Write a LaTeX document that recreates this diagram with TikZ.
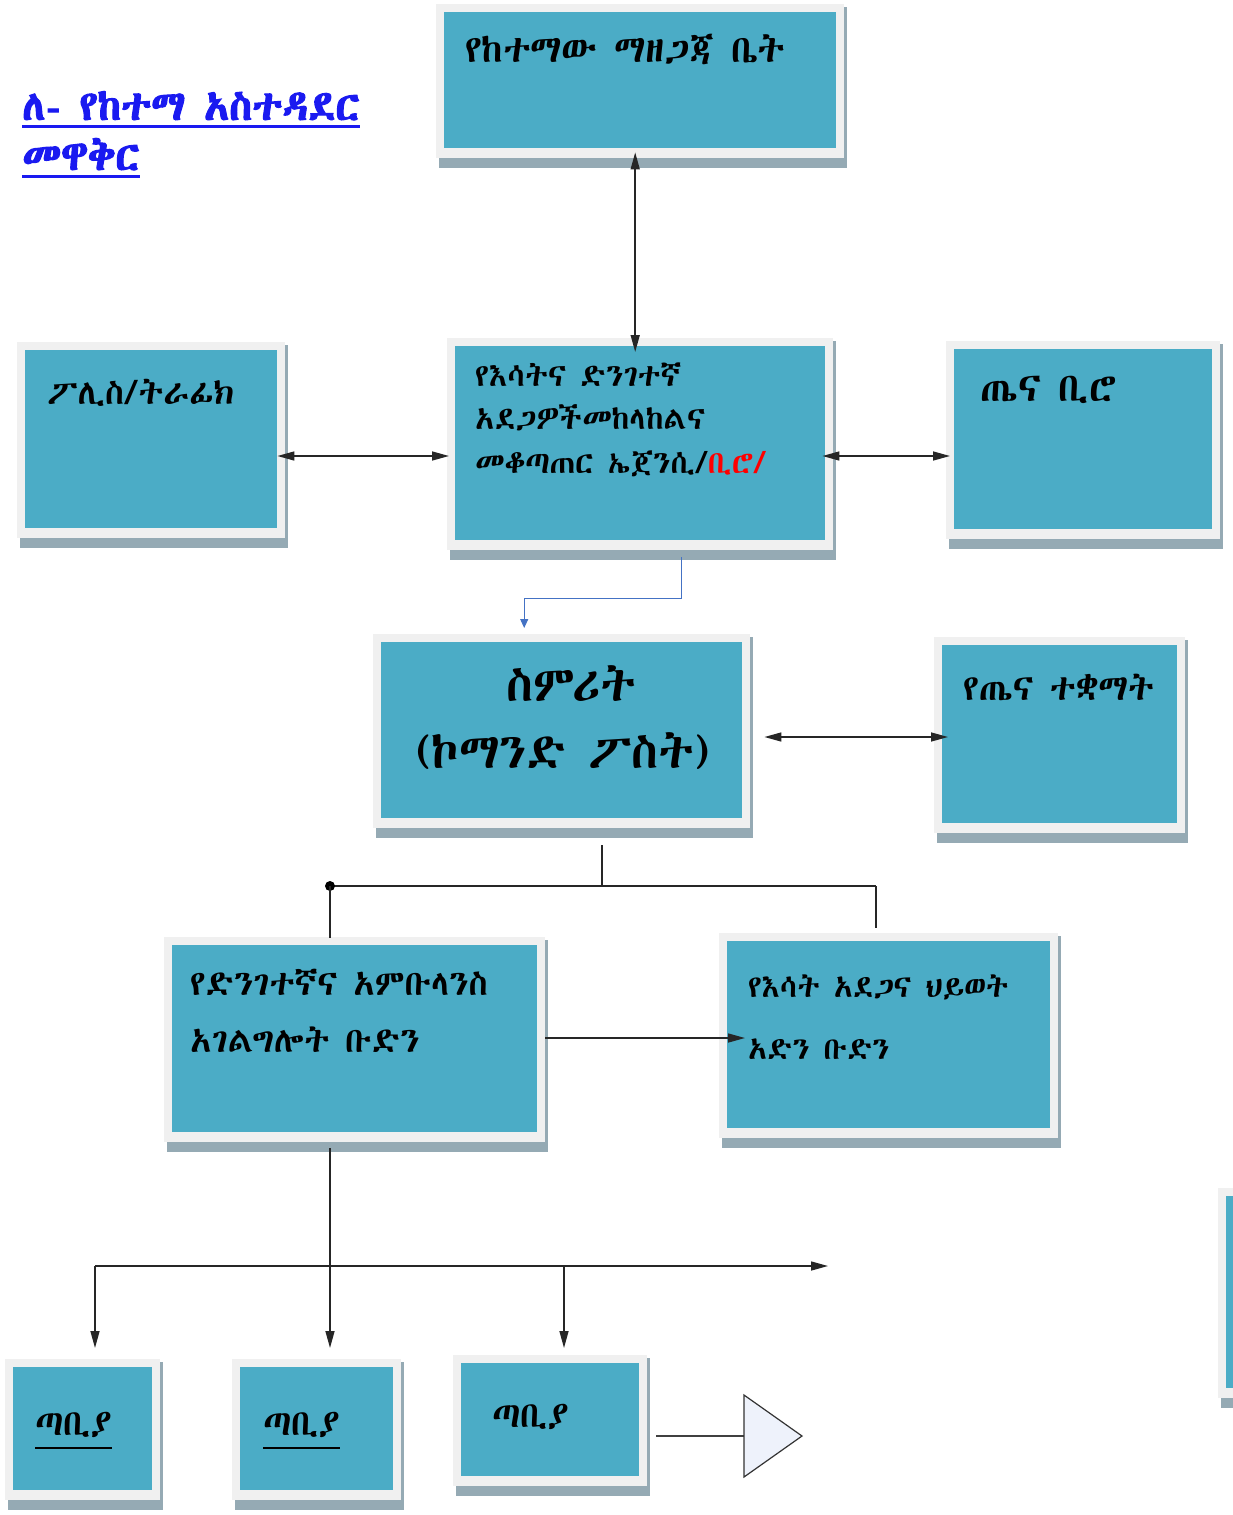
\documentclass[tikz,border=0pt]{standalone}
\usepackage{fontspec}
\usetikzlibrary{arrows.meta,calc}
\newfontfamily\eth{Abyssinica SIL}[AutoFakeBold=2.5]
\definecolor{boxblue}{HTML}{4BACC6}
\definecolor{framec}{HTML}{F0F0F0}
\definecolor{shadowc}{HTML}{95AAB4}
\definecolor{elbow}{HTML}{4472C4}
\definecolor{titleblue}{HTML}{1A1AF0}
\definecolor{tric}{HTML}{EEF2FB}
\pgfdeclarelayer{bg}
\pgfsetlayers{bg,main}
\tikzset{
  bluebox/.style={draw=none, fill=boxblue, anchor=north west, inner sep=0pt},
  conn/.style={line width=1.5pt, draw=black!85},
  tipend/.style={-{Triangle[length=17pt,width=9pt]}},
  tipboth/.style={{Triangle[length=17pt,width=9pt]}-{Triangle[length=17pt,width=9pt]}},
  bluecon/.style={line width=1pt, draw=elbow, -{Triangle[length=9pt,width=8pt]}},
  txt/.style={anchor=base west, inner sep=0pt, font=\eth},
}
\newcommand\mkbox[5]{%
  \node[bluebox, minimum width={#4-#2}, minimum height={#5-#3}] (#1) at (#2,#3) {};
  \begin{pgfonlayer}{bg}
    \fill[shadowc] ($(#1.north west)+(-5,-5)$) rectangle ($(#1.south east)+(11,20)$);
    \fill[framec] ($(#1.north west)+(-8,-8)$) rectangle ($(#1.south east)+(8,10)$);
  \end{pgfonlayer}}
\begin{document}
\begin{tikzpicture}[x=1pt,y=-1pt]
\useasboundingbox (0,0) rectangle (1233,1515);
% boxes
\mkbox{top}{444}{12}{836}{148}
\mkbox{police}{25}{350}{277}{528}
\mkbox{center}{455}{346}{825}{540}
\mkbox{health}{954}{349}{1212}{529}
\mkbox{cmd}{381}{642}{742}{818}
\mkbox{inst}{942}{645}{1177}{823}
\mkbox{amb}{172}{945}{537}{1132}
\mkbox{fire}{727}{941}{1050}{1128}
\mkbox{st1}{13}{1367}{152}{1490}
\mkbox{st2}{240}{1367}{393}{1490}
\mkbox{st3}{461}{1363}{639}{1476}
\mkbox{edge}{1226}{1196}{1260}{1388}
% texts
\node[txt, font=\eth\bfseries\fontsize{41.5}{44}\selectfont, text=titleblue] (title1) at (22,120) {ለ- የከተማ አስተዳደር};
\node[txt, font=\eth\bfseries\fontsize{41.5}{44}\selectfont, text=titleblue] (title2) at (22,170) {መዋቅር};
\draw[titleblue, line width=3pt] ($(title1.base west)+(0,6)$) -- ($(title1.base east)+(0,6)$);
\draw[titleblue, line width=3pt] ($(title2.base west)+(0,6)$) -- ($(title2.base east)+(0,6)$);
\node[txt, font=\eth\fontsize{38}{40}\selectfont] (ttop) at (465,62) {የከተማው ማዘጋጃ ቤት};
\node[txt, font=\eth\fontsize{34.5}{40}\selectfont] (tpol) at (47,404) {ፖሊስ/ትራፊክ};
\node[txt, font=\eth\fontsize{31.5}{34}\selectfont] (tc1) at (475,386) {የእሳትና ድንገተኛ};
\node[txt, font=\eth\fontsize{31.5}{34}\selectfont] (tc2) at (475,429) {አደጋዎችመከላከልና};
\node[txt, font=\eth\fontsize{31.5}{34}\selectfont] (tc3) at (475,473) {መቆጣጠር ኤጀንሲ/\textcolor{red}{ቢሮ/}};
\node[txt, font=\eth\fontsize{40}{44}\selectfont] (thb) at (980,401) {ጤና ቢሮ};
\node[anchor=base, inner sep=0pt, font=\eth\fontsize{49}{52}\selectfont] (tcmd1) at (571,701) {ስምሪት};
\node[anchor=base, inner sep=0pt, font=\eth\fontsize{49}{52}\selectfont] (tcmd2) at (563,768) {(ኮማንድ ፖስት)};
\node[txt, font=\eth\fontsize{36}{40}\selectfont] (tinst) at (963,700) {የጤና ተቋማት};
\node[txt, font=\eth\fontsize{35}{40}\selectfont] (ta1) at (190,995) {የድንገተኛና አምቡላንስ};
\node[txt, font=\eth\fontsize{35}{40}\selectfont] (ta2) at (190,1052) {አገልግሎት ቡድን};
\node[txt, font=\eth\fontsize{31}{36}\selectfont] (tf1) at (748,997) {የእሳት አደጋና ህይወት};
\node[txt, font=\eth\fontsize{31}{36}\selectfont] (tf2) at (748,1059) {አድን ቡድን};
\node[txt, font=\eth\fontsize{36}{40}\selectfont] (ts1) at (35,1435) {ጣቢያ};
\node[txt, font=\eth\fontsize{36}{40}\selectfont] (ts2) at (263,1435) {ጣቢያ};
\node[txt, font=\eth\fontsize{36}{40}\selectfont] (ts3) at (492,1427) {ጣቢያ};
\draw[line width=1.5pt] ($(ts1.base west)+(0,13)$) -- ($(ts1.base east)+(0,13)$);
\draw[line width=1.5pt] ($(ts2.base west)+(0,13)$) -- ($(ts2.base east)+(0,13)$);
% connectors
\coordinate (ya) at (0,456);
\coordinate (yb) at (0,737);
\coordinate (yc) at (0,1038);
\coordinate (tj) at (602,886);
\coordinate (tl) at (330,886);
\coordinate (tr) at (876,886);
\coordinate (hb) at (95,1266);
\coordinate (he) at (828,1266);
\coordinate (hm) at (564,1266);
\coordinate (tri) at (744,1436);
\draw[conn,tipboth] ([xshift=-5pt,yshift=-4pt]top.south) -- ([xshift=-5pt,yshift=-6pt]top.south |- center.north);
\draw[conn,tipboth] (police.east |- ya) -- ([xshift=-6pt]center.west |- ya);
\draw[conn,tipboth] ([xshift=-3pt]center.east |- ya) -- ([xshift=-4pt]health.west |- ya);
\draw[bluecon] ([xshift=41pt,yshift=-17pt]center.south) -- ++(0,41) -| ([xshift=-37.5pt,yshift=14pt]cmd.north);
\draw[conn,tipboth] ([xshift=22pt]cmd.east |- yb) -- ([xshift=6pt]inst.west |- yb);
\draw[conn] ([yshift=-27pt]cmd.south -| tj) -- (tj);
\draw[conn] (tl) -- (tr);
\fill (tl) circle (5);
\draw[conn] (tl) -- ([yshift=7pt]tl |- amb.north);
\draw[conn] (tr) -- ([yshift=13pt]tr |- fire.north);
\draw[conn,tipend] ([xshift=8pt]amb.east |- yc) -- ([xshift=18pt]fire.west |- yc);
\draw[conn,tipend] ([yshift=-16pt]amb.south -| tl) -- ([yshift=19pt]tl |- st2.north);
\draw[conn,tipend] (hb) -- (he);
\draw[conn,tipend] (hb) -- ([yshift=19pt]hb |- st1.north);
\draw[conn,tipend] (hm) -- ([yshift=15pt]hm |- st3.north);
\draw[line width=1.2pt, draw=black!75] ([xshift=17pt]st3.east |- tri) -- (tri);
\draw[line width=1.2pt, draw=black!80, fill=tric] (tri) -- ++(0,-41) -- ++(58,41) -- ++(-58,41) -- cycle;
\end{tikzpicture}
\end{document}
